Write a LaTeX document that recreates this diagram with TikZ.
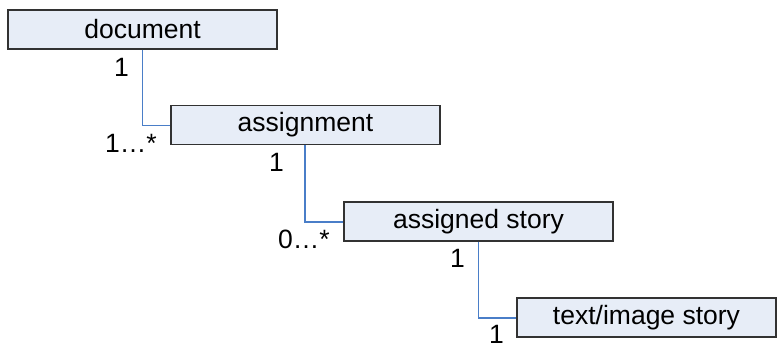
\documentclass[tikz,border=0pt]{standalone}
\usepackage{fontspec}
\setmainfont{Liberation Sans}
\definecolor{boxfill}{RGB}{231,237,247}
\definecolor{boxline}{RGB}{50,50,50}
\definecolor{link}{RGB}{74,126,200}
\tikzset{
  umlbox/.style={draw=boxline, line width=1.1pt, fill=boxfill, minimum width=269pt, minimum height=39pt, inner sep=0pt, font=\fontsize{26.5}{30}\selectfont},
  mult/.style={anchor=base west, inner sep=0pt, font=\fontsize{26.5}{30}\selectfont},
  conn/.style={draw=link, line width=1.2pt}
}
\begin{document}
\begin{tikzpicture}[x=1pt,y=-1pt]
\useasboundingbox (0,0) rectangle (777,346);
\node[umlbox] (doc) at (142.5,29.5) {document};
\node[umlbox] (asg) at (305.5,125) {assignment};
\node[umlbox] (ast) at (478.5,221.5) {assigned story};
\node[umlbox, minimum width=259pt] (tis) at (646.5,317.5) {text/image story};
\draw[conn] (doc.south) |- ([yshift=-0.25pt]asg.west);
\draw[conn] ([xshift=-0.5pt]asg.south) |- ([yshift=-0.5pt]ast.west);
\draw[conn] (ast.south) |- ([yshift=-0.5pt]tis.west);
\node[mult] (m1) at (114,76) {1};
\node[mult] (m2) at (105,152) {1…*};
\node[mult] (m3) at (269,171) {1};
\node[mult] (m4) at (278,248) {0…*};
\node[mult] (m5) at (450,267) {1};
\node[mult] (m6) at (489,343) {1};
\end{tikzpicture}
\end{document}
